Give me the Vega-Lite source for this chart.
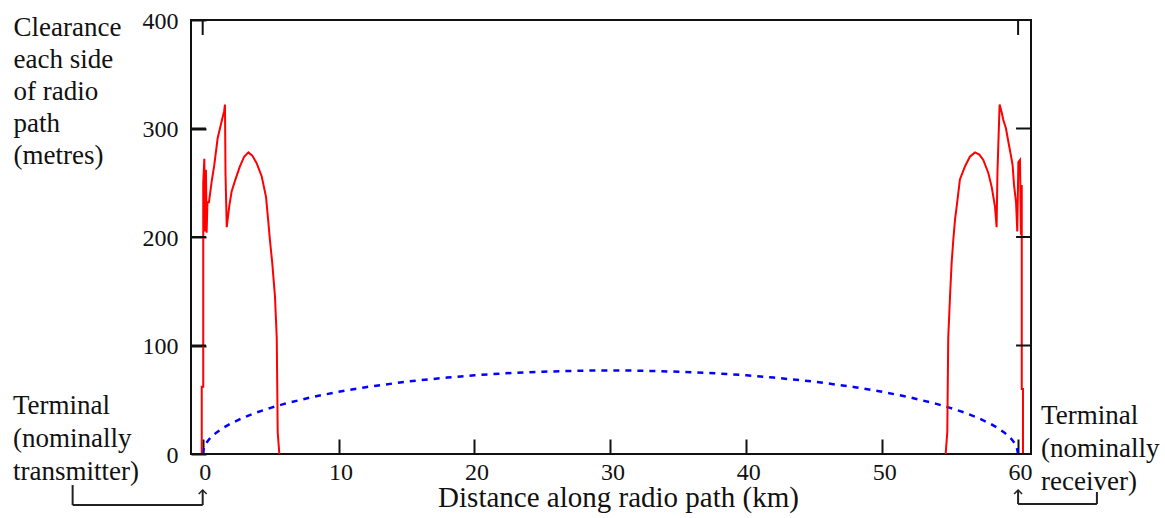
{
  "$schema": "https://vega.github.io/schema/vega-lite/v6.json",
  "width": 840,
  "height": 434,
  "autosize": {"type": "none"},
  "padding": {"left": 191, "top": 20, "right": 134, "bottom": 64},
  "background": "white",
  "config": {
    "view": {"stroke": "#111", "strokeWidth": 2},
    "axis": {"grid": false, "domain": false, "zindex": 2, "ticks": true, "tickColor": "#111", "tickWidth": 2, "tickOpacity": 1, "tickSize": 15, "offset": -15, "labelFont": "Liberation Serif", "labelColor": "#111", "titleFont": "Liberation Serif", "titleColor": "#111", "titleFontWeight": "normal"}
  },
  "datasets": {
    "fresnel": [
      {"d": 0, "c": 0}, {"d": 0.1, "c": 6.3}, {"d": 0.25, "c": 9.9}, {"d": 0.5, "c": 14.0}, {"d": 1, "c": 19.7}, {"d": 1.5, "c": 24.0}, {"d": 2, "c": 27.6}, {"d": 3, "c": 33.6}, {"d": 4, "c": 38.4}, {"d": 5, "c": 42.5}, {"d": 6, "c": 46.2}, {"d": 8, "c": 52.3}, {"d": 10, "c": 57.4}, {"d": 12, "c": 61.6}, {"d": 15, "c": 66.7}, {"d": 18, "c": 70.5}, {"d": 20, "c": 72.6}, {"d": 22, "c": 74.2}, {"d": 25, "c": 75.9}, {"d": 28, "c": 76.8}, {"d": 30, "c": 77.0}, {"d": 32, "c": 76.8}, {"d": 35, "c": 75.9}, {"d": 38, "c": 74.2}, {"d": 40, "c": 72.6}, {"d": 42, "c": 70.5}, {"d": 45, "c": 66.7}, {"d": 48, "c": 61.6}, {"d": 50, "c": 57.4}, {"d": 52, "c": 52.3}, {"d": 54, "c": 46.2}, {"d": 55, "c": 42.5}, {"d": 56, "c": 38.4}, {"d": 57, "c": 33.6}, {"d": 58, "c": 27.6}, {"d": 58.5, "c": 24.0}, {"d": 59, "c": 19.7}, {"d": 59.5, "c": 14.0}, {"d": 59.75, "c": 9.9}, {"d": 59.9, "c": 6.3}, {"d": 60, "c": 0}
    ],
    "terrain": [
      {"side": "L", "seq": 1, "d": -0.07, "c": 0}, {"side": "L", "seq": 2, "d": -0.07, "c": 62}, {"side": "L", "seq": 3, "d": 0.04, "c": 62}, {"side": "L", "seq": 4, "d": 0.04, "c": 250}, {"side": "L", "seq": 5, "d": 0.12, "c": 272}, {"side": "L", "seq": 6, "d": 0.19, "c": 205}, {"side": "L", "seq": 7, "d": 0.24, "c": 262}, {"side": "L", "seq": 8, "d": 0.29, "c": 204}, {"side": "L", "seq": 9, "d": 0.35, "c": 232}, {"side": "L", "seq": 10, "d": 0.46, "c": 232}, {"side": "L", "seq": 11, "d": 0.66, "c": 251}, {"side": "L", "seq": 12, "d": 0.85, "c": 266}, {"side": "L", "seq": 13, "d": 1.10, "c": 291}, {"side": "L", "seq": 14, "d": 1.27, "c": 300}, {"side": "L", "seq": 15, "d": 1.44, "c": 309}, {"side": "L", "seq": 16, "d": 1.58, "c": 316}, {"side": "L", "seq": 17, "d": 1.64, "c": 322}, {"side": "L", "seq": 18, "d": 1.68, "c": 258}, {"side": "L", "seq": 19, "d": 1.77, "c": 209}, {"side": "L", "seq": 20, "d": 1.96, "c": 229}, {"side": "L", "seq": 21, "d": 2.13, "c": 242}, {"side": "L", "seq": 22, "d": 2.38, "c": 252}, {"side": "L", "seq": 23, "d": 2.74, "c": 265}, {"side": "L", "seq": 24, "d": 3.05, "c": 274}, {"side": "L", "seq": 25, "d": 3.36, "c": 278}, {"side": "L", "seq": 26, "d": 3.65, "c": 275}, {"side": "L", "seq": 27, "d": 3.97, "c": 268}, {"side": "L", "seq": 28, "d": 4.34, "c": 256}, {"side": "L", "seq": 29, "d": 4.66, "c": 237}, {"side": "L", "seq": 30, "d": 4.83, "c": 214}, {"side": "L", "seq": 31, "d": 4.95, "c": 197}, {"side": "L", "seq": 32, "d": 5.12, "c": 176}, {"side": "L", "seq": 33, "d": 5.32, "c": 145}, {"side": "L", "seq": 34, "d": 5.45, "c": 107}, {"side": "L", "seq": 35, "d": 5.52, "c": 20}, {"side": "L", "seq": 36, "d": 5.64, "c": 0},
      {"side": "R", "seq": 1, "d": 54.67, "c": 0}, {"side": "R", "seq": 2, "d": 54.79, "c": 20}, {"side": "R", "seq": 3, "d": 54.86, "c": 107}, {"side": "R", "seq": 4, "d": 54.99, "c": 145}, {"side": "R", "seq": 5, "d": 55.11, "c": 176}, {"side": "R", "seq": 6, "d": 55.23, "c": 197}, {"side": "R", "seq": 7, "d": 55.36, "c": 216}, {"side": "R", "seq": 8, "d": 55.48, "c": 228}, {"side": "R", "seq": 9, "d": 55.72, "c": 253}, {"side": "R", "seq": 10, "d": 56.09, "c": 265}, {"side": "R", "seq": 11, "d": 56.45, "c": 274}, {"side": "R", "seq": 12, "d": 56.83, "c": 278}, {"side": "R", "seq": 13, "d": 57.15, "c": 276}, {"side": "R", "seq": 14, "d": 57.44, "c": 271}, {"side": "R", "seq": 15, "d": 57.81, "c": 259}, {"side": "R", "seq": 16, "d": 58.06, "c": 246}, {"side": "R", "seq": 17, "d": 58.30, "c": 228}, {"side": "R", "seq": 18, "d": 58.42, "c": 209}, {"side": "R", "seq": 19, "d": 58.48, "c": 259}, {"side": "R", "seq": 20, "d": 58.64, "c": 322}, {"side": "R", "seq": 21, "d": 58.79, "c": 315}, {"side": "R", "seq": 22, "d": 58.91, "c": 308}, {"side": "R", "seq": 23, "d": 59.11, "c": 300}, {"side": "R", "seq": 24, "d": 59.28, "c": 288}, {"side": "R", "seq": 25, "d": 59.46, "c": 276}, {"side": "R", "seq": 26, "d": 59.60, "c": 266}, {"side": "R", "seq": 27, "d": 59.70, "c": 248}, {"side": "R", "seq": 28, "d": 59.85, "c": 232}, {"side": "R", "seq": 29, "d": 59.94, "c": 205}, {"side": "R", "seq": 30, "d": 60.02, "c": 269}, {"side": "R", "seq": 31, "d": 60.14, "c": 271}, {"side": "R", "seq": 32, "d": 60.21, "c": 202}, {"side": "R", "seq": 33, "d": 60.27, "c": 248}, {"side": "R", "seq": 34, "d": 60.27, "c": 60}, {"side": "R", "seq": 35, "d": 60.36, "c": 60}, {"side": "R", "seq": 36, "d": 60.36, "c": 0}
    ],
    "yticks": [{"v": 0}, {"v": 100}, {"v": 200}, {"v": 300}, {"v": 400}],
    "xticks": [{"v": 0}, {"v": 60}],
    "connectors": [
      {"x1": -9.57, "y1": -28.6, "x2": -9.57, "y2": -47},
      {"x1": -9.57, "y1": -47, "x2": 0, "y2": -47},
      {"x1": 0, "y1": -47, "x2": 0, "y2": -33.2},
      {"x1": 65.8, "y1": -35, "x2": 65.8, "y2": -46.1},
      {"x1": 65.8, "y1": -46.1, "x2": 60, "y2": -46.1},
      {"x1": 60, "y1": -46.1, "x2": 60, "y2": -33.2}
    ],
    "heads": [
      {"x": 0, "y": -33.2},
      {"x": 60, "y": -33.2}
    ],
    "notes": [
      {"x": -13.96, "y": 36.9, "t": "Terminal\n(nominally\ntransmitter)"},
      {"x": 61.69, "y": 27.6, "t": "Terminal\n(nominally\nreceiver)"}
    ]
  },
  "resolve": {"axis": {"x": "independent", "y": "independent"}},
  "layer": [
    {
      "data": {"name": "fresnel"},
      "mark": {"type": "line", "color": "#0000ff", "strokeWidth": 2.5, "strokeDash": [6, 6]},
      "encoding": {
        "x": {"field": "d", "type": "quantitative", "scale": {"domain": [-0.86, 60.95], "nice": false, "zero": false},
          "axis": {"orient": "bottom", "values": [0, 10, 20, 30, 40, 50, 60], "labelPadding": 6, "labelFontSize": 24, "labelOffset": 2,
            "title": "Distance along radio path (km)", "titleFontSize": 29, "titleX": 427, "titleY": 67, "titleAlign": "center", "titleBaseline": "alphabetic", "titleAnchor": null}},
        "y": {"field": "c", "type": "quantitative", "scale": {"domain": [0, 400], "nice": false, "zero": false},
          "axis": {"orient": "left", "values": [0, 100, 200, 300, 400], "labelPadding": 13, "labelFontSize": 24, "labelOffset": 1,
            "title": ["Clearance", "each side", "of radio", "path", "(metres)"], "titleAngle": 0, "titleAlign": "left", "titleBaseline": "alphabetic", "titleX": -193, "titleY": 15, "titleLineHeight": 32, "titleFontSize": 27}}
      }
    },
    {
      "data": {"name": "terrain"},
      "mark": {"type": "line", "color": "#ff0000", "strokeWidth": 2},
      "encoding": {
        "x": {"field": "d", "type": "quantitative", "scale": {"domain": [-0.86, 60.95], "nice": false, "zero": false}, "axis": null},
        "y": {"field": "c", "type": "quantitative", "scale": {"domain": [0, 400], "nice": false, "zero": false}, "axis": null},
        "detail": {"field": "side", "type": "nominal"},
        "order": {"field": "seq", "type": "quantitative"}
      }
    },
    {
      "data": {"name": "yticks"},
      "mark": {"type": "rule", "color": "#111", "strokeWidth": 2},
      "encoding": {
        "x": {"datum": -0.86, "type": "quantitative", "scale": {"domain": [-0.86, 60.95], "nice": false, "zero": false}, "axis": null},
        "x2": {"datum": 0.24},
        "y": {"field": "v", "type": "quantitative", "scale": {"domain": [0, 400], "nice": false, "zero": false}, "axis": null}
      }
    },
    {
      "data": {"name": "yticks"},
      "mark": {"type": "rule", "color": "#111", "strokeWidth": 2},
      "encoding": {
        "x": {"datum": 60.95, "type": "quantitative", "scale": {"domain": [-0.86, 60.95], "nice": false, "zero": false}, "axis": null},
        "x2": {"datum": 59.85},
        "y": {"field": "v", "type": "quantitative", "scale": {"domain": [0, 400], "nice": false, "zero": false}, "axis": null}
      }
    },
    {
      "data": {"name": "xticks"},
      "mark": {"type": "rule", "color": "#111", "strokeWidth": 2},
      "encoding": {
        "x": {"field": "v", "type": "quantitative", "scale": {"domain": [-0.86, 60.95], "nice": false, "zero": false}, "axis": null},
        "y": {"datum": 400, "type": "quantitative", "scale": {"domain": [0, 400], "nice": false, "zero": false}, "axis": null},
        "y2": {"datum": 386.2}
      }
    },
    {
      "data": {"name": "connectors"},
      "mark": {"type": "rule", "color": "#222", "strokeWidth": 2},
      "encoding": {
        "x": {"field": "x1", "type": "quantitative", "scale": {"domain": [-0.86, 60.95], "nice": false, "zero": false}, "axis": null},
        "x2": {"field": "x2"},
        "y": {"field": "y1", "type": "quantitative", "scale": {"domain": [0, 400], "nice": false, "zero": false}, "axis": null},
        "y2": {"field": "y2"}
      }
    },
    {
      "data": {"name": "heads"},
      "mark": {"type": "point", "shape": "M-1,1L0,0L1,1", "filled": false, "stroke": "#222", "strokeWidth": 1.5, "size": 64, "opacity": 1},
      "encoding": {
        "x": {"field": "x", "type": "quantitative", "scale": {"domain": [-0.86, 60.95], "nice": false, "zero": false}, "axis": null},
        "y": {"field": "y", "type": "quantitative", "scale": {"domain": [0, 400], "nice": false, "zero": false}, "axis": null}
      }
    },
    {
      "data": {"name": "notes"},
      "mark": {"type": "text", "align": "left", "baseline": "alphabetic", "lineBreak": "\n", "lineHeight": 33, "fontSize": 27, "font": "Liberation Serif", "color": "#111"},
      "encoding": {
        "x": {"field": "x", "type": "quantitative", "scale": {"domain": [-0.86, 60.95], "nice": false, "zero": false}, "axis": null},
        "y": {"field": "y", "type": "quantitative", "scale": {"domain": [0, 400], "nice": false, "zero": false}, "axis": null},
        "text": {"field": "t", "type": "nominal"}
      }
    }
  ]
}
